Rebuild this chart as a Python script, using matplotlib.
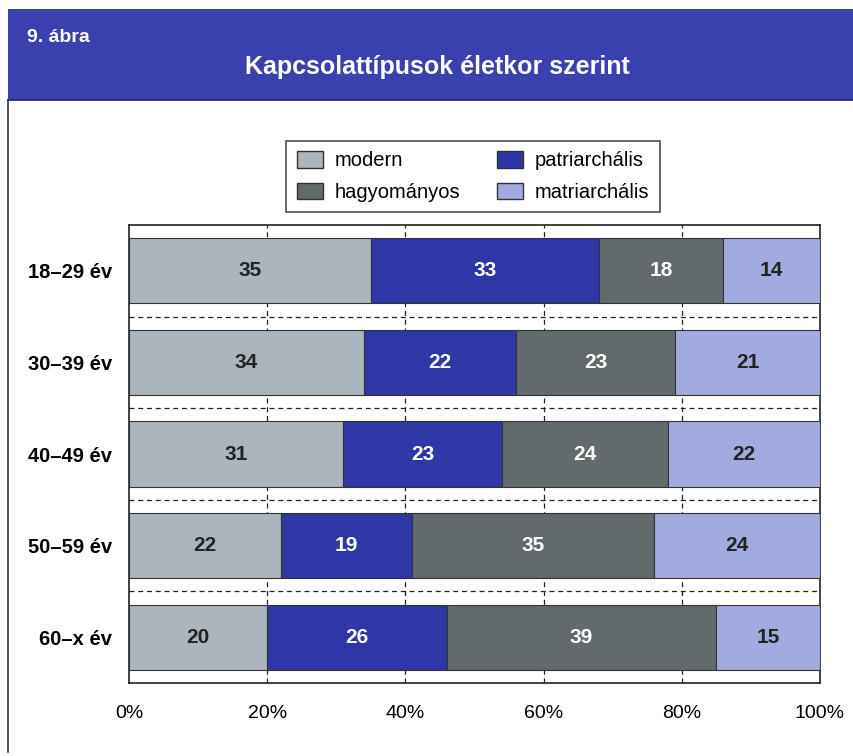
import matplotlib
matplotlib.use("Agg")
import matplotlib.pyplot as plt
from matplotlib.patches import Rectangle, Patch
from matplotlib.lines import Line2D
import numpy as np

plt.rcParams['font.family'] = ['Liberation Sans', 'DejaVu Sans']

categories = ["18–29 év", "30–39 év", "40–49 év", "50–59 év", "60–x év"]
series_names = ["modern", "patriarchális", "hagyományos", "matriarchális"]
modern = [35, 34, 31, 22, 20]
patriarchalis = [33, 22, 23, 19, 26]
hagyomanyos = [18, 23, 24, 35, 39]
matriarchalis = [14, 21, 22, 24, 15]
xticks = [0, 20, 40, 60, 80, 100]
xticklabels = ["0%", "20%", "40%", "60%", "80%", "100%"]

colors = ["#abb5bd", "#2f36a6", "#626a6b", "#a2abdf"]
text_colors = ["#222222", "white", "white", "#222222"]

fig = plt.figure(figsize=(8.54, 7.56), dpi=100)
W, H = 854, 756

# header band
fig.patches.append(Rectangle((8 / W, 1 - 100 / H), 1 - 8 / W, 91 / H,
                             transform=fig.transFigure, facecolor="#3a40ae",
                             edgecolor="none", zorder=0))
fig.lines.append(Line2D([8 / W, 1], [1 - 100 / H, 1 - 100 / H], transform=fig.transFigure,
                        color="#1e2270", lw=1.2))
fig.lines.append(Line2D([8 / W, 8 / W], [1 - 100 / H, 0.005], transform=fig.transFigure,
                        color="#333333", lw=1.2))
fig.text(27 / W, 1 - 38 / H, "9. ábra", color="white", fontsize=14, fontweight="bold",
         va="center", ha="left")
fig.text(437 / W, 1 - 67 / H, "Kapcsolattípusok életkor szerint", color="white",
         fontsize=18, fontweight="bold", va="center", ha="center")

ax = fig.add_axes([129 / W, 1 - 683 / H, 691 / W, 458 / H])
data = [modern, patriarchalis, hagyomanyos, matriarchalis]
y = np.arange(len(categories))
left = np.zeros(len(categories))
for vals, name, c, tc in zip(data, series_names, colors, text_colors):
    vals = np.array(vals, dtype=float)
    ax.barh(y, vals, left=left, height=0.71, color=c, edgecolor="#333333",
            linewidth=0.8, label=name, zorder=3)
    for yi, (l, v) in enumerate(zip(left, vals)):
        ax.text(l + v / 2, yi, f"{int(v)}", ha="center", va="center", color=tc,
                fontsize=15, fontweight="bold", zorder=4)
    left += vals

ax.set_ylim(4.5, -0.5)
ax.set_xlim(0, 100)
for yy in [0.5, 1.5, 2.5, 3.5]:
    ax.axhline(yy, color="#222222", lw=0.9, ls=(0, (4, 3)), zorder=1)
for xx in [20, 40, 60, 80]:
    ax.axvline(xx, color="#222222", lw=0.9, ls=(0, (4, 3)), zorder=1)

ax.set_yticks(y)
ax.set_yticklabels(categories, fontsize=14.5, fontweight="bold")
ax.set_xticks(xticks)
ax.set_xticklabels(xticklabels, fontsize=14)
ax.tick_params(axis="both", length=0)
ax.tick_params(axis="y", pad=12)
ax.tick_params(axis="x", pad=16)
for s in ax.spines.values():
    s.set_linewidth(1.2)
    s.set_color("#222222")

handles = [Patch(facecolor=colors[0], edgecolor="#333333", label="modern"),
           Patch(facecolor=colors[2], edgecolor="#333333", label="hagyományos"),
           Patch(facecolor=colors[1], edgecolor="#333333", label="patriarchális"),
           Patch(facecolor=colors[3], edgecolor="#333333", label="matriarchális")]
leg = fig.legend(handles=handles, ncol=2, loc="center", bbox_to_anchor=(473 / W, 1 - 176.5 / H),
                 fontsize=14.5, frameon=True, fancybox=False, edgecolor="#222222",
                 handlelength=1.3, handleheight=0.9, columnspacing=1.8, handletextpad=0.6,
                 borderpad=0.5, labelspacing=0.6)
leg.get_frame().set_linewidth(1.2)

fig.savefig("out.png", dpi=100)
